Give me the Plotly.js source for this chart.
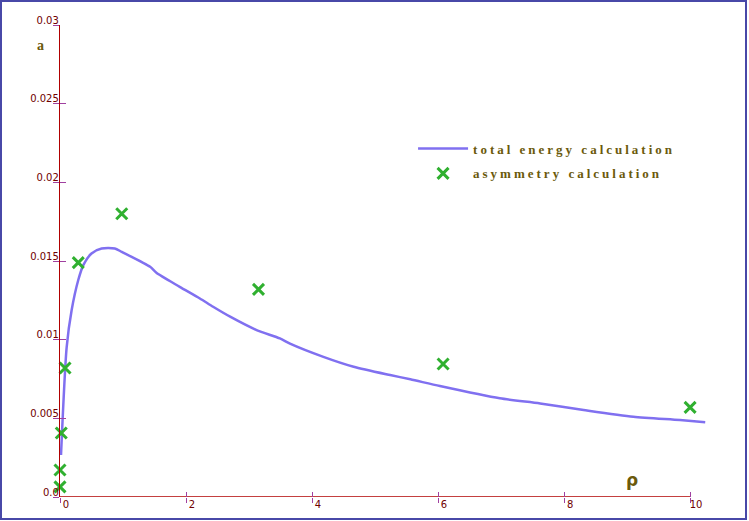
<!DOCTYPE html>
<html>
<head>
<meta charset="utf-8">
<script src="https://cdn.plot.ly/plotly-3.0.1.min.js"></script>
<style>
  body { margin: 0; background: #fff; }
  #chart { width: 749px; height: 521px; }
  #frame { position: absolute; left: 0; top: 0; width: 747px; height: 520px;
           box-sizing: border-box; border: 2px solid #4848a8; pointer-events: none; }
  .legendtext { letter-spacing: 3px; }
</style>
</head>
<body>
<div id="chart"></div>
<div id="frame"></div>
<script>
// total energy calculation
var rhoEnergy = [0.016, 0.106, 0.185, 0.29, 0.37, 0.50, 0.66, 0.87, 0.98, 1.43, 1.53, 1.90, 2.22, 2.43, 2.70, 3.12, 3.49, 3.65, 4.18, 4.66, 5.24, 5.56, 6.03, 6.98, 7.62, 8.31, 9.10, 9.84, 10.24];
var aEnergy = [0.00267, 0.00953, 0.01188, 0.01379, 0.01474, 0.01548, 0.0158, 0.0158, 0.01558, 0.01463, 0.01425, 0.01336, 0.01262, 0.01209, 0.01146, 0.01061, 0.01008, 0.00975, 0.00891, 0.00828, 0.00775, 0.00748, 0.00705, 0.00627, 0.00595, 0.00553, 0.0051, 0.00489, 0.00475];

// asymmetry calculation
var rhoAsym = [0.0, 0.0, 0.02, 0.08, 0.29, 0.98, 3.15, 6.08, 10.0];
var aAsym = [0.00064, 0.00172, 0.00407, 0.0082, 0.0149, 0.018, 0.0132, 0.00845, 0.0057];

var xTicks = [0, 2, 4, 6, 8, 10];
var xTickText = ['0', '2', '4', '6', '8', '10'];
var yTicks = [0, 0.005, 0.01, 0.015, 0.02, 0.025, 0.03];
var yTickText = ['0.0', '0.005', '0.01', '0.015', '0.02', '0.025', '0.03'];

var axisRed = '#b00000';
var tickPurple = '#a040a0';
var labelRed = '#700000';
var olive = '#6b5a0c';

var energy = {
    x: rhoEnergy,
    y: aEnergy,
    name: 'total energy calculation',
    legendgroup: 'e',
    type: 'scatter',
    mode: 'lines',
    line: { color: '#8070f0', width: 2.5, shape: 'spline', smoothing: 0.7 }
};

var asym = {
    x: rhoAsym,
    y: aAsym,
    name: 'asymmetry calculation',
    legendgroup: 'a',
    type: 'scatter',
    mode: 'markers',
    cliponaxis: false,
    marker: { symbol: 'x-thin-open', size: 11, color: '#30b030', line: { color: '#30b030', width: 3 } }
};

var tickFont = { family: 'DejaVu Sans', size: 10, color: labelRed };

var layout = {
    width: 749,
    height: 521,
    margin: { l: 60, r: 40, t: 25, b: 24 },
    paper_bgcolor: '#fff',
    plot_bgcolor: '#fff',
    showlegend: true,
    legend: {
        x: 0.544, y: 0.77, xanchor: 'left', yanchor: 'top',
        traceorder: 'grouped', tracegroupgap: 5,
        itemwidth: 50,
        font: { family: 'Liberation Serif', size: 13, color: olive, weight: 'bold' },
        bgcolor: 'rgba(0,0,0,0)'
    },
    xaxis: {
        range: [0, 10.3],
        showline: false, zeroline: false, showgrid: false,
        tickmode: 'array', tickvals: xTicks, ticktext: xTickText,
        ticks: 'inside', ticklen: 5, tickcolor: tickPurple, tickwidth: 1,
        ticklabelshift: 6,
        tickfont: tickFont
    },
    xaxis2: {
        overlaying: 'x', matches: 'x', anchor: 'y', side: 'bottom',
        showline: false, zeroline: false, showgrid: false, showticklabels: false,
        tickmode: 'array', tickvals: xTicks,
        ticks: 'outside', ticklen: 5, tickcolor: tickPurple, tickwidth: 1
    },
    yaxis: {
        range: [0, 0.03],
        showline: true, linecolor: axisRed, linewidth: 1.2,
        zeroline: false, showgrid: false,
        tickmode: 'array', tickvals: yTicks, ticktext: yTickText,
        ticks: 'inside', ticklen: 6, tickcolor: tickPurple, tickwidth: 1,
        ticklabelshift: -5,
        ticklabelstandoff: -2,
        tickfont: tickFont
    },
    yaxis2: {
        overlaying: 'y', matches: 'y', anchor: 'x', side: 'left',
        showline: false, zeroline: false, showgrid: false, showticklabels: false,
        tickmode: 'array', tickvals: yTicks,
        ticks: 'outside', ticklen: 6, tickcolor: tickPurple, tickwidth: 1
    },
    shapes: [
        { type: 'line', xref: 'x', yref: 'y', x0: 0, x1: 10, y0: 0, y1: 0,
          line: { color: axisRed, width: 1.3 }, layer: 'below' }
    ],
    annotations: [
        { text: 'a', xref: 'paper', yref: 'paper', x: -0.039, y: 0.977, showarrow: false,
          font: { family: 'Liberation Serif', size: 14, color: olive, weight: 'bold' } },
        { text: 'ρ', xref: 'x', yref: 'y', x: 9.08, y: 0.00108, showarrow: false,
          font: { family: 'DejaVu Sans', size: 17, color: olive, weight: 'bold' } }
    ]
};

var ghost = {
    x: [0], y: [0], xaxis: 'x2', yaxis: 'y2', type: 'scatter', mode: 'markers',
    marker: { opacity: 0 }, showlegend: false, hoverinfo: 'skip'
};

Plotly.newPlot('chart', [energy, asym, ghost], layout, { staticPlot: true });
</script>
</body>
</html>
